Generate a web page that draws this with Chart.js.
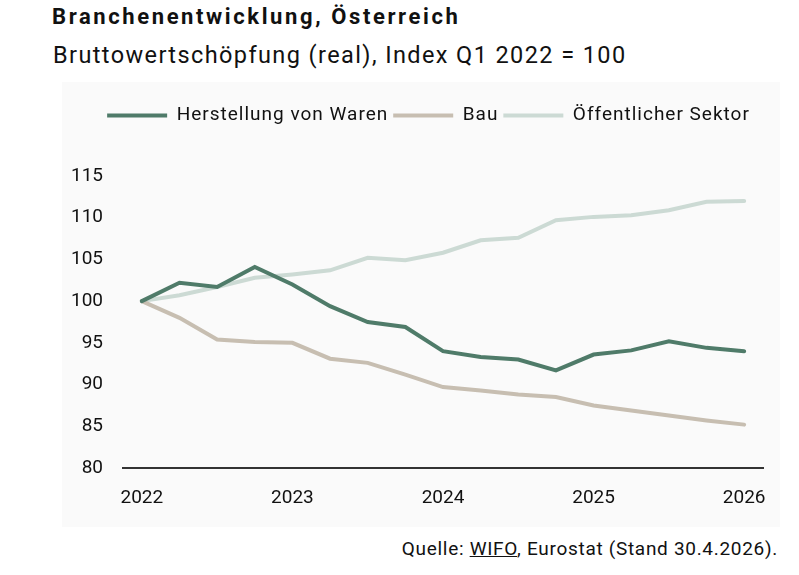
<!DOCTYPE html>
<html>
<head>
<meta charset="utf-8">
<script src="https://cdn.jsdelivr.net/npm/chart.js@4"></script>
<style>
  body { margin: 0; width: 799px; height: 575px; background: #fff; position: relative; font-family: Roboto, sans-serif; color: #111; }
  #title { position: absolute; left: 52px; top: 3px; font-size: 22px; font-weight: bold; line-height: 28px; letter-spacing: 2.6px; white-space: nowrap; }
  #subtitle { position: absolute; left: 53px; top: 40px; font-size: 23.5px; line-height: 30px; letter-spacing: 1.4px; white-space: nowrap; }
  #wrap { position: absolute; left: 62px; top: 82px; width: 718px; height: 445px; background: #fafafa; }
  #wrap canvas { display: block; }
  #source { position: absolute; right: 21px; top: 538px; font-size: 19px; line-height: 22px; letter-spacing: 0.7px; white-space: nowrap; }
  #source u { text-decoration: underline; }
</style>
</head>
<body>
<div id="title">Branchenentwicklung, Österreich</div>
<div id="subtitle">Bruttowertschöpfung (real), Index Q1 2022 = 100</div>
<div id="wrap"><canvas id="chart"></canvas></div>
<div id="source">Quelle: <u>WIFO</u>, Eurostat (Stand 30.4.2026).</div>

<script>
//************ Daten (Quartale Q1 2022 - Q1 2026) */
const quarters = ['2022 Q1', '2022 Q2', '2022 Q3', '2022 Q4',
                  '2023 Q1', '2023 Q2', '2023 Q3', '2023 Q4',
                  '2024 Q1', '2024 Q2', '2024 Q3', '2024 Q4',
                  '2025 Q1', '2025 Q2', '2025 Q3', '2025 Q4',
                  '2026 Q1'];

const herstellung = [100, 102.2, 101.7, 104.1, 102.0, 99.4, 97.5, 96.9,
                     94.0, 93.3, 93.0, 91.7, 93.6, 94.1, 95.2, 94.4, 94.0];

const bau = [100, 98.0, 95.4, 95.1, 95.0, 93.1, 92.6, 91.2,
             89.7, 89.3, 88.8, 88.5, 87.5, 86.9, 86.3, 85.7, 85.2];

const oeffentlich = [100, 100.7, 101.7, 102.8, 103.2, 103.7, 105.2, 104.9,
                     105.8, 107.3, 107.6, 109.7, 110.1, 110.3, 110.9, 111.9, 112.0];

const yTicks = [80, 85, 90, 95, 100, 105, 110, 115];

//******** Chart conf */
const fontFamily = 'Roboto';
const textColor = '#111';

function lineSet(label, data, color) {
    return {
        label: label,
        data: data,
        borderColor: color,
        backgroundColor: color,
        borderWidth: 4,
        borderCapStyle: 'round',
        pointRadius: 0,
        pointHoverRadius: 0,
        tension: 0,
        fill: false,
        pointStyle: 'line'
    };
}

var chartData = {
    labels: quarters,
    datasets: [
        lineSet('Herstellung von Waren', herstellung, '#4f7b69'),
        lineSet('Bau', bau, '#c7beb1'),
        lineSet('Öffentlicher Sektor', oeffentlich, '#ccdad4')
    ]
};

// legende: etwas Buchstabenabstand, fixe Hoehe bis zur Plotflaeche, leicht nach rechts
const legendTweak = {
    id: 'legendTweak',
    afterInit: function(chart) {
        const lg = chart.legend;
        const fit0 = lg.fit;
        const draw0 = lg.draw;
        lg.fit = function() {
            const c = this.ctx;
            c.save();
            c.letterSpacing = '1px';
            fit0.call(this);
            c.restore();
            this.height = 75;
        };
        lg.draw = function() {
            const c = this.ctx;
            c.save();
            c.letterSpacing = '1px';
            c.translate(16, 0);
            draw0.call(this);
            c.restore();
        };
    }
};

var options = {
    responsive: false,
    animation: false,
    layout: {
        padding: { top: 19, right: 17, bottom: 18, left: 0 }
    },
    scales: {
        x: {
            type: 'category',
            offset: true,
            afterFit: function(scale) {
                scale.height = 41;
                scale.paddingLeft = 0;
                scale.paddingRight = 0;
            },
            grid: { display: false, drawTicks: false },
            border: { display: true, color: '#333', width: 2 },
            ticks: {
                autoSkip: false,
                maxRotation: 0,
                padding: 19,
                color: textColor,
                font: { family: fontFamily, size: 19 },
                callback: function(value, index) {
                    let q = quarters[index];
                    return q.endsWith('Q1') ? q.slice(0, 4) : null;
                }
            }
        },
        y: {
            min: yTicks[0],
            max: yTicks[yTicks.length - 1],
            afterFit: function(scale) { scale.width = 61; },
            afterBuildTicks: function(scale) {
                scale.ticks = yTicks.map(v => ({ value: v }));
            },
            grid: { display: false, drawTicks: false },
            border: { display: false },
            ticks: {
                padding: 20,
                color: textColor,
                font: { family: fontFamily, size: 19 }
            }
        }
    },
    plugins: {
        legend: {
            position: 'top',
            align: 'center',
            labels: {
                usePointStyle: true,
                pointStyleWidth: 60,
                padding: 5,
                color: textColor,
                font: { family: fontFamily, size: 19 }
            }
        },
        tooltip: { enabled: false }
    }
};

var canvas = document.getElementById('chart');
canvas.width = 718;
canvas.height = 445;
var myChart = new Chart(canvas.getContext('2d'), {
    type: 'line',
    data: chartData,
    options: options,
    plugins: [legendTweak]
});
</script>
</body>
</html>
